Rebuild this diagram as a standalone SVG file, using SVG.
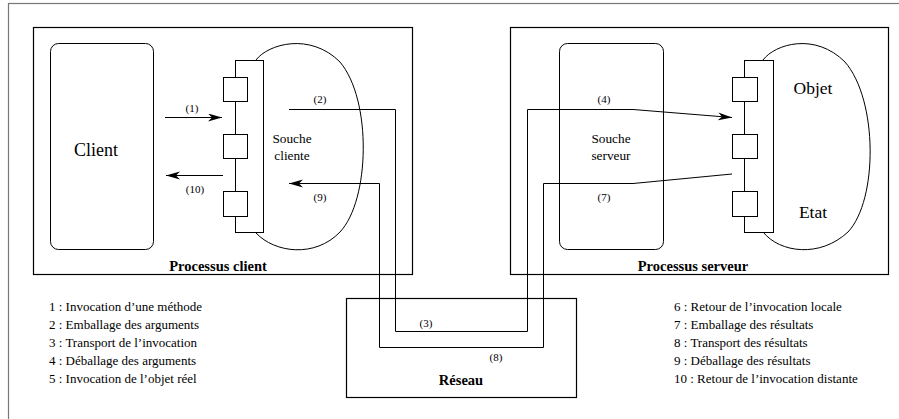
<svg xmlns="http://www.w3.org/2000/svg" width="899" height="419" viewBox="0 0 899 419" font-family="'Liberation Serif', 'DejaVu Serif', serif">
<defs>
<style>
.box{fill:none;stroke:#000;stroke-width:1.2}
.thin{fill:none;stroke:#000;stroke-width:1}
.sq{fill:#fff;stroke:#000;stroke-width:1}
.ln{fill:none;stroke:#000;stroke-width:1}
text{font-family:'Liberation Serif','DejaVu Serif',serif;fill:#000}
.lbl{font-size:11px;text-anchor:middle}
.st{font-size:13.3px;text-anchor:middle}
.big{font-size:18px;text-anchor:middle}
.obj{font-size:17.5px;text-anchor:middle}
.bold{font-size:14.5px;font-weight:bold;text-anchor:middle}
.leg{font-size:13px}
</style>
<marker id="ah" markerUnits="userSpaceOnUse" markerWidth="16" markerHeight="10" refX="14" refY="4" orient="auto">
<path d="M0,0 L14,4 L0,8 L4,4 z" fill="#000"/>
</marker>
</defs>
<rect x="8.5" y="3.5" width="1000" height="1000" fill="none" stroke="#777" stroke-width="1.2"/>

<g id="processus-client">
<rect class="box" x="33.5" y="27.5" width="379" height="247"/>
<text class="bold" x="218" y="271">Processus client</text>
</g>
<g id="client">
<rect class="thin" x="50.5" y="43.5" width="103" height="206" rx="8"/>
<text class="big" x="96" y="156">Client</text>
</g>
<g id="souche-cliente">
<path class="thin" d="M256,60 C268,44 310,32 340,62 C372,100 370,200 340,232 C315,258 275,253 256,233"/>
<rect class="thin" x="235.5" y="60.5" width="28" height="172"/>
<rect class="sq" x="223.5" y="77.5" width="24" height="24"/>
<rect class="sq" x="223.5" y="134.5" width="24" height="24"/>
<rect class="sq" x="223.5" y="191.5" width="24" height="25"/>
<text class="st" x="292" y="143">Souche</text>
<text class="st" x="292" y="160">cliente</text>
</g>

<g id="processus-serveur">
<rect class="box" x="510.5" y="27.5" width="378" height="247"/>
<text class="bold" x="693" y="271">Processus serveur</text>
</g>
<g id="souche-serveur">
<rect class="thin" x="559.5" y="43.5" width="104" height="206" rx="8"/>
<text class="st" x="611" y="143">Souche</text>
<text class="st" x="611" y="160">serveur</text>
</g>
<g id="objet">
<path class="thin" d="M763,60 C775,44 815,32 845,62 C878,100 878,200 848,232 C820,258 780,253 763,232"/>
<rect class="thin" x="744.5" y="60.5" width="29" height="172"/>
<rect class="sq" x="732.5" y="77.5" width="25" height="24"/>
<rect class="sq" x="732.5" y="134.5" width="25" height="24"/>
<rect class="sq" x="732.5" y="191.5" width="25" height="25"/>
<text class="obj" x="813" y="94">Objet</text>
<text class="obj" x="813" y="218">Etat</text>
</g>

<g id="reseau">
<rect class="box" x="346.5" y="298.5" width="230" height="99"/>
<text class="bold" x="461" y="385">Réseau</text>
</g>

<g id="connectors">
<line class="ln" x1="165" y1="117.5" x2="222" y2="117.5" marker-end="url(#ah)"/>
<line class="ln" x1="223" y1="175.5" x2="166" y2="175.5" marker-end="url(#ah)"/>
<polyline class="ln" points="289,109.5 395.5,109.5 395.5,331.5 527.5,331.5 527.5,109.5 633,109.5 732,117.5" marker-end="url(#ah)"/>
<polyline class="ln" points="732,174 633,183.5 543.5,183.5 543.5,347.5 379.5,347.5 379.5,183.5 289,183.5" stroke="#222" marker-end="url(#ah)"/>
<text class="lbl" x="192" y="112">(1)</text>
<text class="lbl" x="195" y="193">(10)</text>
<text class="lbl" x="320" y="103">(2)</text>
<text class="lbl" x="320" y="201">(9)</text>
<text class="lbl" x="604" y="103">(4)</text>
<text class="lbl" x="604" y="201">(7)</text>
<text class="lbl" x="426" y="327">(3)</text>
<text class="lbl" x="496" y="361">(8)</text>
</g>

<g id="legende">
<text class="leg" x="49" y="311">1 : Invocation d’une méthode</text>
<text class="leg" x="49" y="329">2 : Emballage des arguments</text>
<text class="leg" x="49" y="347">3 : Transport de l’invocation</text>
<text class="leg" x="49" y="365">4 : Déballage des arguments</text>
<text class="leg" x="49" y="383">5 : Invocation de l’objet réel</text>
<text class="leg" x="674" y="311">6 : Retour de l’invocation locale</text>
<text class="leg" x="674" y="329">7 : Emballage des résultats</text>
<text class="leg" x="674" y="347">8 : Transport des résultats</text>
<text class="leg" x="674" y="365">9 : Déballage des résultats</text>
<text class="leg" x="674" y="383">10 : Retour de l’invocation distante</text>
</g>
</svg>
